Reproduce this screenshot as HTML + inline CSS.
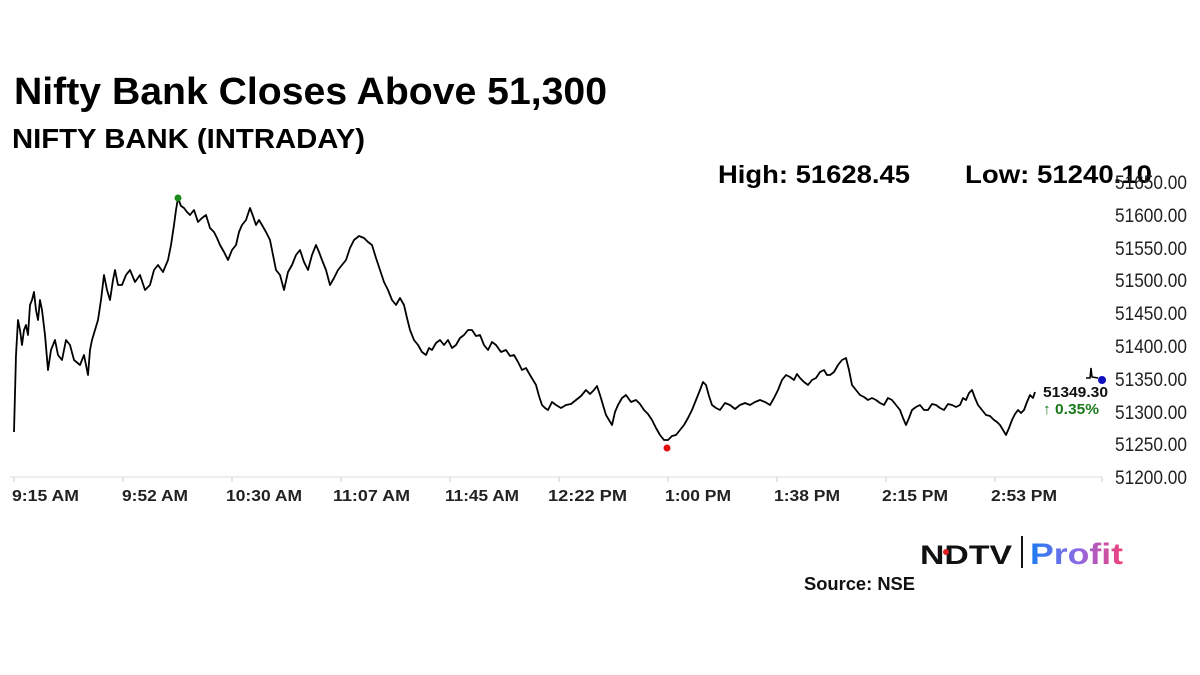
<!DOCTYPE html>
<html><head><meta charset="utf-8"><style>
body{margin:0;background:#fff;width:1200px;height:675px;overflow:hidden}
svg{display:block}
text{font-family:"Liberation Sans",sans-serif}
</style></head><body>
<svg width="1200" height="675" viewBox="0 0 1200 675">
<defs><linearGradient id="g" x1="0" x2="1"><stop offset="0" stop-color="#1e7bf0"/><stop offset="0.5" stop-color="#8a6be8"/><stop offset="1" stop-color="#f0407a"/></linearGradient></defs>
<text x="14" y="104" font-size="38" font-weight="bold" textLength="593" lengthAdjust="spacingAndGlyphs">Nifty Bank Closes Above 51,300</text>
<text x="12" y="148" font-size="28" font-weight="bold" textLength="353" lengthAdjust="spacingAndGlyphs">NIFTY BANK (INTRADAY)</text>
<text x="718" y="183" font-size="25" font-weight="bold" textLength="192" lengthAdjust="spacingAndGlyphs">High: 51628.45</text>
<text x="965" y="183" font-size="25" font-weight="bold" textLength="187" lengthAdjust="spacingAndGlyphs">Low: 51240.10</text>
<g font-size="19" fill="#222">
<text x="1115" y="189" textLength="72" lengthAdjust="spacingAndGlyphs">51650.00</text><text x="1115" y="222" textLength="72" lengthAdjust="spacingAndGlyphs">51600.00</text><text x="1115" y="255" textLength="72" lengthAdjust="spacingAndGlyphs">51550.00</text><text x="1115" y="287" textLength="72" lengthAdjust="spacingAndGlyphs">51500.00</text><text x="1115" y="320" textLength="72" lengthAdjust="spacingAndGlyphs">51450.00</text><text x="1115" y="353" textLength="72" lengthAdjust="spacingAndGlyphs">51400.00</text><text x="1115" y="386" textLength="72" lengthAdjust="spacingAndGlyphs">51350.00</text><text x="1115" y="419" textLength="72" lengthAdjust="spacingAndGlyphs">51300.00</text><text x="1115" y="451" textLength="72" lengthAdjust="spacingAndGlyphs">51250.00</text><text x="1115" y="484" textLength="72" lengthAdjust="spacingAndGlyphs">51200.00</text>
</g>
<line x1="10" y1="477" x2="1102" y2="477" stroke="#ddd"/>
<g stroke="#ccc"><line x1="14" y1="477" x2="14" y2="482"/><line x1="123" y1="477" x2="123" y2="482"/><line x1="232" y1="477" x2="232" y2="482"/><line x1="341" y1="477" x2="341" y2="482"/><line x1="450" y1="477" x2="450" y2="482"/><line x1="559" y1="477" x2="559" y2="482"/><line x1="668" y1="477" x2="668" y2="482"/><line x1="777" y1="477" x2="777" y2="482"/><line x1="886" y1="477" x2="886" y2="482"/><line x1="995" y1="477" x2="995" y2="482"/><line x1="1102" y1="477" x2="1102" y2="482"/></g>
<g font-size="16" font-weight="bold" fill="#222">
<text x="12" y="501" textLength="67" lengthAdjust="spacingAndGlyphs">9:15 AM</text><text x="122" y="501" textLength="66" lengthAdjust="spacingAndGlyphs">9:52 AM</text><text x="226" y="501" textLength="76" lengthAdjust="spacingAndGlyphs">10:30 AM</text><text x="333" y="501" textLength="77" lengthAdjust="spacingAndGlyphs">11:07 AM</text><text x="445" y="501" textLength="74" lengthAdjust="spacingAndGlyphs">11:45 AM</text><text x="548" y="501" textLength="79" lengthAdjust="spacingAndGlyphs">12:22 PM</text><text x="665" y="501" textLength="66" lengthAdjust="spacingAndGlyphs">1:00 PM</text><text x="774" y="501" textLength="66" lengthAdjust="spacingAndGlyphs">1:38 PM</text><text x="882" y="501" textLength="66" lengthAdjust="spacingAndGlyphs">2:15 PM</text><text x="991" y="501" textLength="66" lengthAdjust="spacingAndGlyphs">2:53 PM</text>
</g>
<polyline fill="none" stroke="#000" stroke-width="1.8" stroke-linejoin="round" points="14,432 16,355 18,320 20,330 22,345 24,330 26,325 28,335 30,305 32,300 34,292 36,310 38,320 40,300 42,310 45,335 48,370 51,350 55,340 58,355 62,360 66,340 70,345 74,360 80,365 84,355 88,375 90,350 92,340 95,330 98,320 101,300 104,275 107,290 110,300 113,280 115,270 118,285 122,285 126,275 130,270 135,282 140,275 145,290 150,285 154,270 158,265 163,272 168,260 171,245 174,225 176,210 178,198 181,206 184,208 187,212 190,215 194,210 198,222 202,218 206,215 210,228 214,232 217,238 220,245 224,252 228,260 232,250 236,245 239,232 242,225 246,220 250,208 253,216 256,225 259,220 262,225 266,232 270,240 273,255 276,270 280,275 284,290 288,272 292,265 296,255 300,250 304,262 308,270 312,255 316,245 319,252 322,260 326,270 330,285 334,278 338,270 342,265 346,260 350,248 354,240 359,236 364,238 368,242 372,245 376,258 380,270 384,282 388,290 392,300 396,305 400,298 404,305 407,318 410,330 414,340 418,345 422,352 426,355 429,348 432,350 436,343 440,340 444,345 448,340 452,348 456,345 460,338 464,335 468,330 472,330 476,336 480,335 484,345 488,350 492,342 496,345 501,352 506,350 510,356 514,355 518,362 522,370 526,368 530,375 533,380 536,385 539,396 542,405 545,408 548,410 552,402 556,405 561,408 566,405 571,404 576,400 581,396 586,390 590,394 594,390 597,386 600,395 603,405 606,415 609,420 612,425 615,412 618,405 622,398 626,395 631,402 636,400 640,404 644,410 648,414 652,420 656,428 660,435 664,440 668,440 672,436 676,435 680,430 684,425 688,418 692,410 696,400 700,390 703,382 706,385 709,396 712,405 716,408 720,410 725,403 730,405 735,409 740,405 745,403 750,405 755,402 760,400 765,402 770,405 774,398 778,390 782,380 786,375 790,377 794,380 797,374 800,378 804,382 808,385 812,380 816,378 820,372 824,370 827,375 830,375 834,372 838,365 842,360 846,358 849,370 852,385 856,390 860,395 864,397 868,400 872,398 876,400 880,403 884,405 888,398 892,400 896,405 900,410 903,418 906,425 909,418 912,410 916,407 920,405 924,410 928,410 932,404 936,405 940,408 944,410 948,404 952,405 956,407 960,405 963,398 966,400 969,393 972,390 975,398 978,405 982,410 986,415 990,416 994,420 997,422 1000,425 1003,430 1006,435 1009,428 1012,420 1015,414 1018,410 1021,413 1024,410 1027,402 1030,395 1033,398 1035,392"/>
<polyline fill="none" stroke="#000" stroke-width="1.5" points="1086,378 1090,378 1091,368 1092,377 1098,378"/>
<circle cx="178" cy="198" r="3.5" fill="#1a8a1a"/>
<circle cx="667" cy="448" r="3.5" fill="#e01010"/>
<circle cx="1102" cy="380" r="4" fill="#1010c0"/>
<text x="1043" y="397" font-size="15" font-weight="bold" fill="#111" textLength="65" lengthAdjust="spacingAndGlyphs">51349.30</text>
<text x="1043" y="414" font-size="15" font-weight="bold" fill="#1a7a1a" textLength="56" lengthAdjust="spacingAndGlyphs">↑ 0.35%</text>
<text x="920" y="564" font-size="27" font-weight="bold" fill="#111" textLength="92" lengthAdjust="spacingAndGlyphs">NDTV</text>
<circle cx="946" cy="552" r="3" fill="#e02020"/>
<line x1="1022" y1="536" x2="1022" y2="568" stroke="#111" stroke-width="2"/>
<text x="1030" y="564" font-size="30" font-weight="bold" fill="url(#g)" textLength="93" lengthAdjust="spacingAndGlyphs">Profit</text>
<text x="804" y="590" font-size="18" font-weight="bold" fill="#111" textLength="111" lengthAdjust="spacingAndGlyphs">Source: NSE</text>
</svg>
</body></html>
